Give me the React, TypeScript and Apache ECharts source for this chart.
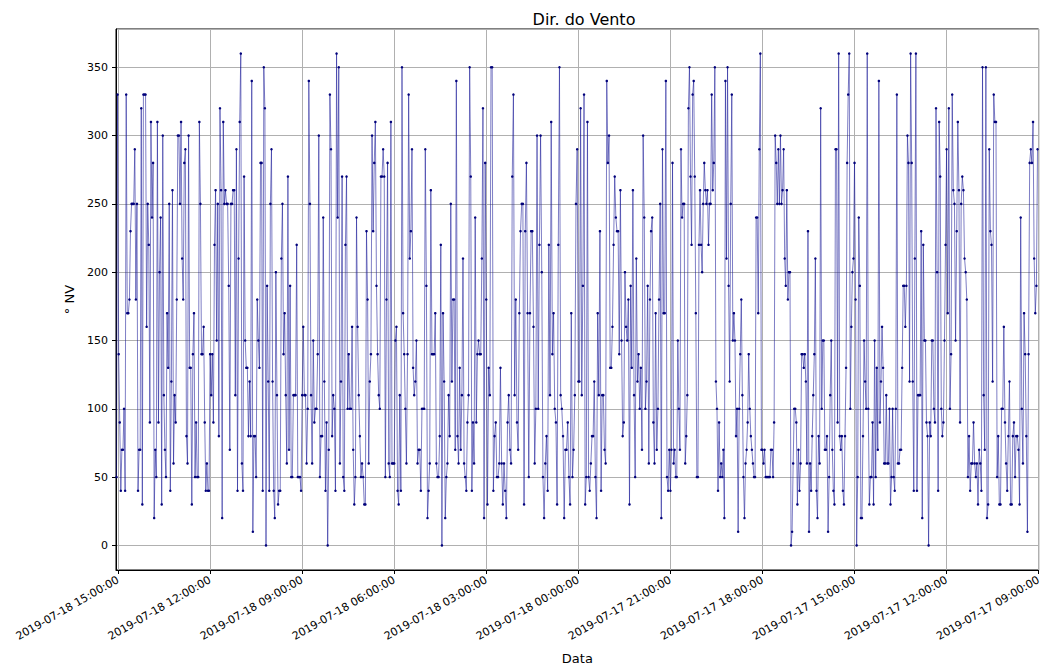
import React, { useEffect, useRef } from "react";
import * as echarts from "echarts";

const TITLE = "Dir. do Vento";
const Y_NAME = "° NV";
const X_NAME = "Data";

// Segment boundaries (UTC), left to right on the chart (time runs backwards)
const SEGMENT_BOUNDS = [
  "2019-07-18T15:03:00Z",
  "2019-07-18T12:00:00Z",
  "2019-07-18T09:00:00Z",
  "2019-07-18T06:00:00Z",
  "2019-07-18T03:00:00Z",
  "2019-07-18T00:00:00Z",
  "2019-07-17T21:00:00Z",
  "2019-07-17T18:00:00Z",
  "2019-07-17T15:00:00Z",
  "2019-07-17T12:00:00Z",
  "2019-07-17T09:00:00Z",
];

// Wind direction readings (° from north), per 3-hour block, newest first
const dir_18_1500_1200 = [50, 330, 140, 90, 40, 70, 70, 100, 40, 330, 170, 170, 180, 230, 250, 250, 250, 290, 180, 250, 40, 70, 70, 320, 30, 330, 330, 330, 160, 250, 220, 90, 310, 240, 280, 20, 70, 50, 310, 90, 200, 240, 30, 300, 110, 70, 50, 170, 130, 250, 40, 120, 260, 60, 110, 90, 180, 300, 300, 250, 310, 210, 180, 280, 290, 80, 60, 300, 130, 130, 30, 140, 170, 50, 90, 50, 50, 310, 250, 140, 140, 160, 90, 40, 60, 40, 40];
const dir_18_1200_0900 = [140, 110, 140, 90, 220, 260, 150, 250, 80, 320, 260, 20, 310, 250, 260, 250, 250, 190, 70, 250, 250, 260, 260, 110, 290, 40, 210, 310, 360, 60, 40, 270, 150, 130, 130, 80, 120, 80, 340, 10, 80, 80, 50, 180, 150, 130, 280, 280, 40, 350, 320, 0, 190, 120, 40, 250, 290, 120, 40, 20, 200, 110, 30, 40, 40, 210, 250, 140, 170, 110, 60, 270, 70, 190, 50, 50, 110, 110, 110, 220, 50, 50, 50, 40];
const dir_18_0900_0600 = [110, 160, 110, 110, 60, 100, 340, 250, 110, 60, 150, 90, 100, 100, 140, 300, 50, 80, 80, 240, 120, 40, 90, 0, 70, 330, 290, 80, 110, 100, 40, 360, 240, 350, 60, 120, 270, 50, 40, 220, 270, 100, 140, 100, 100, 160, 70, 30, 50, 240, 160, 110, 80, 50, 60, 50, 30, 30, 230, 180, 60, 120, 140, 300, 230, 280, 310, 190, 140, 110, 100, 270, 270, 290, 270, 50, 180, 280, 60, 50, 310, 60, 60];
const dir_18_0600_0300 = [60, 150, 160, 40, 30, 110, 40, 350, 170, 140, 100, 60, 140, 330, 210, 230, 290, 130, 110, 120, 150, 60, 70, 70, 40, 100, 100, 100, 290, 190, 20, 40, 60, 260, 140, 140, 140, 170, 60, 50, 50, 80, 220, 0, 170, 120, 20, 50, 60, 110, 80, 250, 120, 180, 180, 70, 340, 80, 60, 130, 70, 110, 210, 60, 50, 40, 90, 110, 350, 270, 40, 90, 60, 240, 90, 140, 150, 140, 140, 210, 320, 20, 280];
const dir_18_0300_0000 = [180, 30, 130, 110, 350, 350, 40, 80, 90, 50, 50, 60, 130, 60, 30, 60, 40, 20, 90, 110, 70, 60, 270, 330, 110, 180, 90, 70, 170, 230, 250, 250, 30, 230, 280, 170, 50, 170, 230, 230, 160, 60, 100, 300, 100, 220, 300, 200, 50, 20, 60, 80, 40, 220, 110, 310, 140, 170, 100, 90, 30, 220, 350, 110, 100, 80, 20, 70, 70, 90, 50, 30, 170, 50, 70, 110, 250, 290];
const dir_17_2400_2100 = [120, 120, 320, 110, 190, 330, 30, 50, 310, 50, 40, 60, 80, 80, 120, 50, 20, 170, 110, 230, 40, 110, 110, 70, 60, 340, 280, 300, 130, 130, 160, 220, 270, 240, 230, 230, 140, 260, 150, 80, 90, 200, 160, 150, 180, 30, 190, 130, 260, 110, 50, 210, 120, 140, 100, 130, 70, 300, 240, 100, 120, 190, 60, 180, 230, 240, 90, 60, 170, 70, 100, 180, 250, 20, 290, 170, 170, 340, 50, 40, 70];
const dir_17_2100_1800 = [40, 70, 280, 60, 70, 50, 50, 150, 100, 70, 290, 240, 250, 250, 60, 80, 110, 320, 350, 270, 220, 330, 340, 270, 170, 50, 50, 220, 260, 220, 200, 250, 280, 260, 250, 260, 220, 250, 250, 330, 260, 280, 350, 120, 100, 40, 90, 50, 60, 50, 70, 20, 340, 210, 350, 190, 120, 250, 330, 150, 170, 150, 80, 100, 10, 100, 140, 180, 110, 50, 20, 60, 70, 90, 140, 100, 80, 70, 60, 50, 50, 240, 240, 170, 290, 360, 70];
const dir_17_1800_1500 = [70, 60, 70, 50, 50, 50, 50, 50, 70, 70, 50, 90, 300, 280, 250, 290, 250, 300, 250, 260, 290, 210, 190, 260, 180, 200, 200, 0, 10, 60, 100, 100, 90, 30, 70, 40, 60, 140, 140, 130, 140, 120, 60, 230, 10, 60, 40, 80, 110, 140, 210, 40, 20, 80, 60, 320, 100, 150, 150, 70, 70, 80, 10, 50, 110, 150, 70, 40, 30, 290, 290, 90, 360, 80, 70, 80, 40, 30, 80, 130, 280, 330, 360, 100, 160, 200, 210];
const dir_17_1500_1200 = [280, 180, 0, 50, 240, 190, 20, 20, 80, 150, 120, 100, 360, 100, 30, 50, 50, 90, 30, 150, 50, 130, 70, 340, 90, 120, 160, 130, 60, 60, 110, 60, 60, 100, 30, 50, 100, 50, 40, 100, 330, 60, 60, 70, 70, 130, 190, 190, 160, 190, 300, 280, 120, 360, 280, 120, 40, 210, 360, 40, 110, 110, 110, 230, 20, 220, 150, 150, 90, 80, 0, 90, 80, 150, 150, 100, 90, 320, 200, 40, 310, 270, 100, 80, 90, 150, 220];
const dir_17_1200_0900 = [290, 170, 320, 100, 140, 330, 260, 250, 150, 230, 310, 260, 90, 250, 270, 260, 210, 200, 180, 50, 80, 40, 60, 60, 90, 60, 50, 60, 30, 70, 60, 40, 350, 110, 70, 350, 20, 30, 290, 230, 220, 120, 330, 310, 310, 50, 80, 30, 30, 100, 100, 160, 90, 60, 40, 80, 120, 30, 30, 80, 90, 50, 80, 80, 70, 30, 240, 100, 60, 170, 140, 80, 10, 140, 280, 290, 280, 310, 210, 170, 190, 290];

const SEGMENTS = [
  dir_18_1500_1200,
  dir_18_1200_0900,
  dir_18_0900_0600,
  dir_18_0600_0300,
  dir_18_0300_0000,
  dir_17_2400_2100,
  dir_17_2100_1800,
  dir_17_1800_1500,
  dir_17_1500_1200,
  dir_17_1200_0900,
];

const HOUR = 3600 * 1000;
const X_MIN = Date.parse("2019-07-17T09:00:00Z");
const X_MAX = Date.parse("2019-07-18T15:04:00Z");
const X_STEP = 3 * HOUR;

function buildData(): [number, number][] {
  const out: [number, number][] = [];
  SEGMENTS.forEach((vals, k) => {
    const t0 = Date.parse(SEGMENT_BOUNDS[k]);
    const t1 = Date.parse(SEGMENT_BOUNDS[k + 1]);
    const step = (t0 - t1) / vals.length;
    vals.forEach((v, j) => out.push([t0 - j * step, v]));
  });
  return out;
}

const pad = (n: number) => (n < 10 ? "0" + n : "" + n);

export default function App() {
  const ref = useRef<HTMLDivElement>(null);
  useEffect(() => {
    if (!ref.current) return;
    const chart = echarts.init(ref.current, undefined, { renderer: "svg" });
    const font = "DejaVu Sans";
    chart.setOption({
      animation: false,
      backgroundColor: "#ffffff",
      title: {
        text: TITLE,
        left: 579,
        top: 6,
        textAlign: "center",
        textStyle: { fontFamily: font, fontSize: 16, fontWeight: "normal", color: "#000" },
      },
      grid: {
        left: 116,
        right: 1,
        top: 29,
        bottom: 98,
        show: true,
        borderColor: "#000",
        borderWidth: 1,
        backgroundColor: "transparent",
      },
      xAxis: {
        type: "value",
        inverse: true,
        min: X_MIN,
        max: X_MAX,
        interval: X_STEP,
        name: X_NAME,
        nameLocation: "middle",
        nameGap: 82,
        nameTextStyle: { fontFamily: font, fontSize: 13, color: "#000" },
        axisLine: { show: true, onZero: false, lineStyle: { color: "#000", width: 1 } },
        axisTick: { show: true, inside: false, length: 4, lineStyle: { color: "#000" } },
        splitLine: { show: true, lineStyle: { color: "#b0b0b0", width: 1 } },
        axisLabel: {
          rotate: 30,
          margin: 9,
          fontFamily: font,
          fontSize: 11,
          color: "#000",
          showMaxLabel: false,
          formatter: (v: number) => {
            if ((v - X_MIN) % X_STEP !== 0) return "";
            const d = new Date(v);
            return `${d.getUTCFullYear()}-${pad(d.getUTCMonth() + 1)}-${pad(d.getUTCDate())} ${pad(d.getUTCHours())}:00:00`;
          },
        },
      },
      yAxis: {
        type: "value",
        min: -18,
        max: 378,
        splitNumber: 8,
        name: Y_NAME,
        nameLocation: "middle",
        nameGap: 37,
        nameRotate: 90,
        nameTextStyle: { fontFamily: font, fontSize: 13, color: "#000" },
        axisLine: { show: true, onZero: false, lineStyle: { color: "#000", width: 1 } },
        axisTick: { show: true, inside: false, length: 4, lineStyle: { color: "#000" } },
        splitLine: { show: true, lineStyle: { color: "#b0b0b0", width: 1 } },
        axisLabel: {
          margin: 8,
          fontFamily: font,
          fontSize: 11,
          color: "#000",
          showMinLabel: false,
          showMaxLabel: false,
          formatter: (v: number) => (v % 50 === 0 ? String(v) : ""),
        },
      },
      series: [
        {
          type: "line",
          data: buildData(),
          symbol: "circle",
          symbolSize: 2.5,
          showSymbol: true,
          showAllSymbol: true,
          itemStyle: { color: "#00007a" },
          lineStyle: { color: "rgba(20,20,150,0.55)", width: 1 },
          emphasis: { disabled: true },
        },
      ],
    });
    return () => chart.dispose();
  }, []);
  return (
    <div
      ref={ref}
      style={{ position: "fixed", left: 0, top: 0, width: 1044, height: 670 }}
    />
  );
}
